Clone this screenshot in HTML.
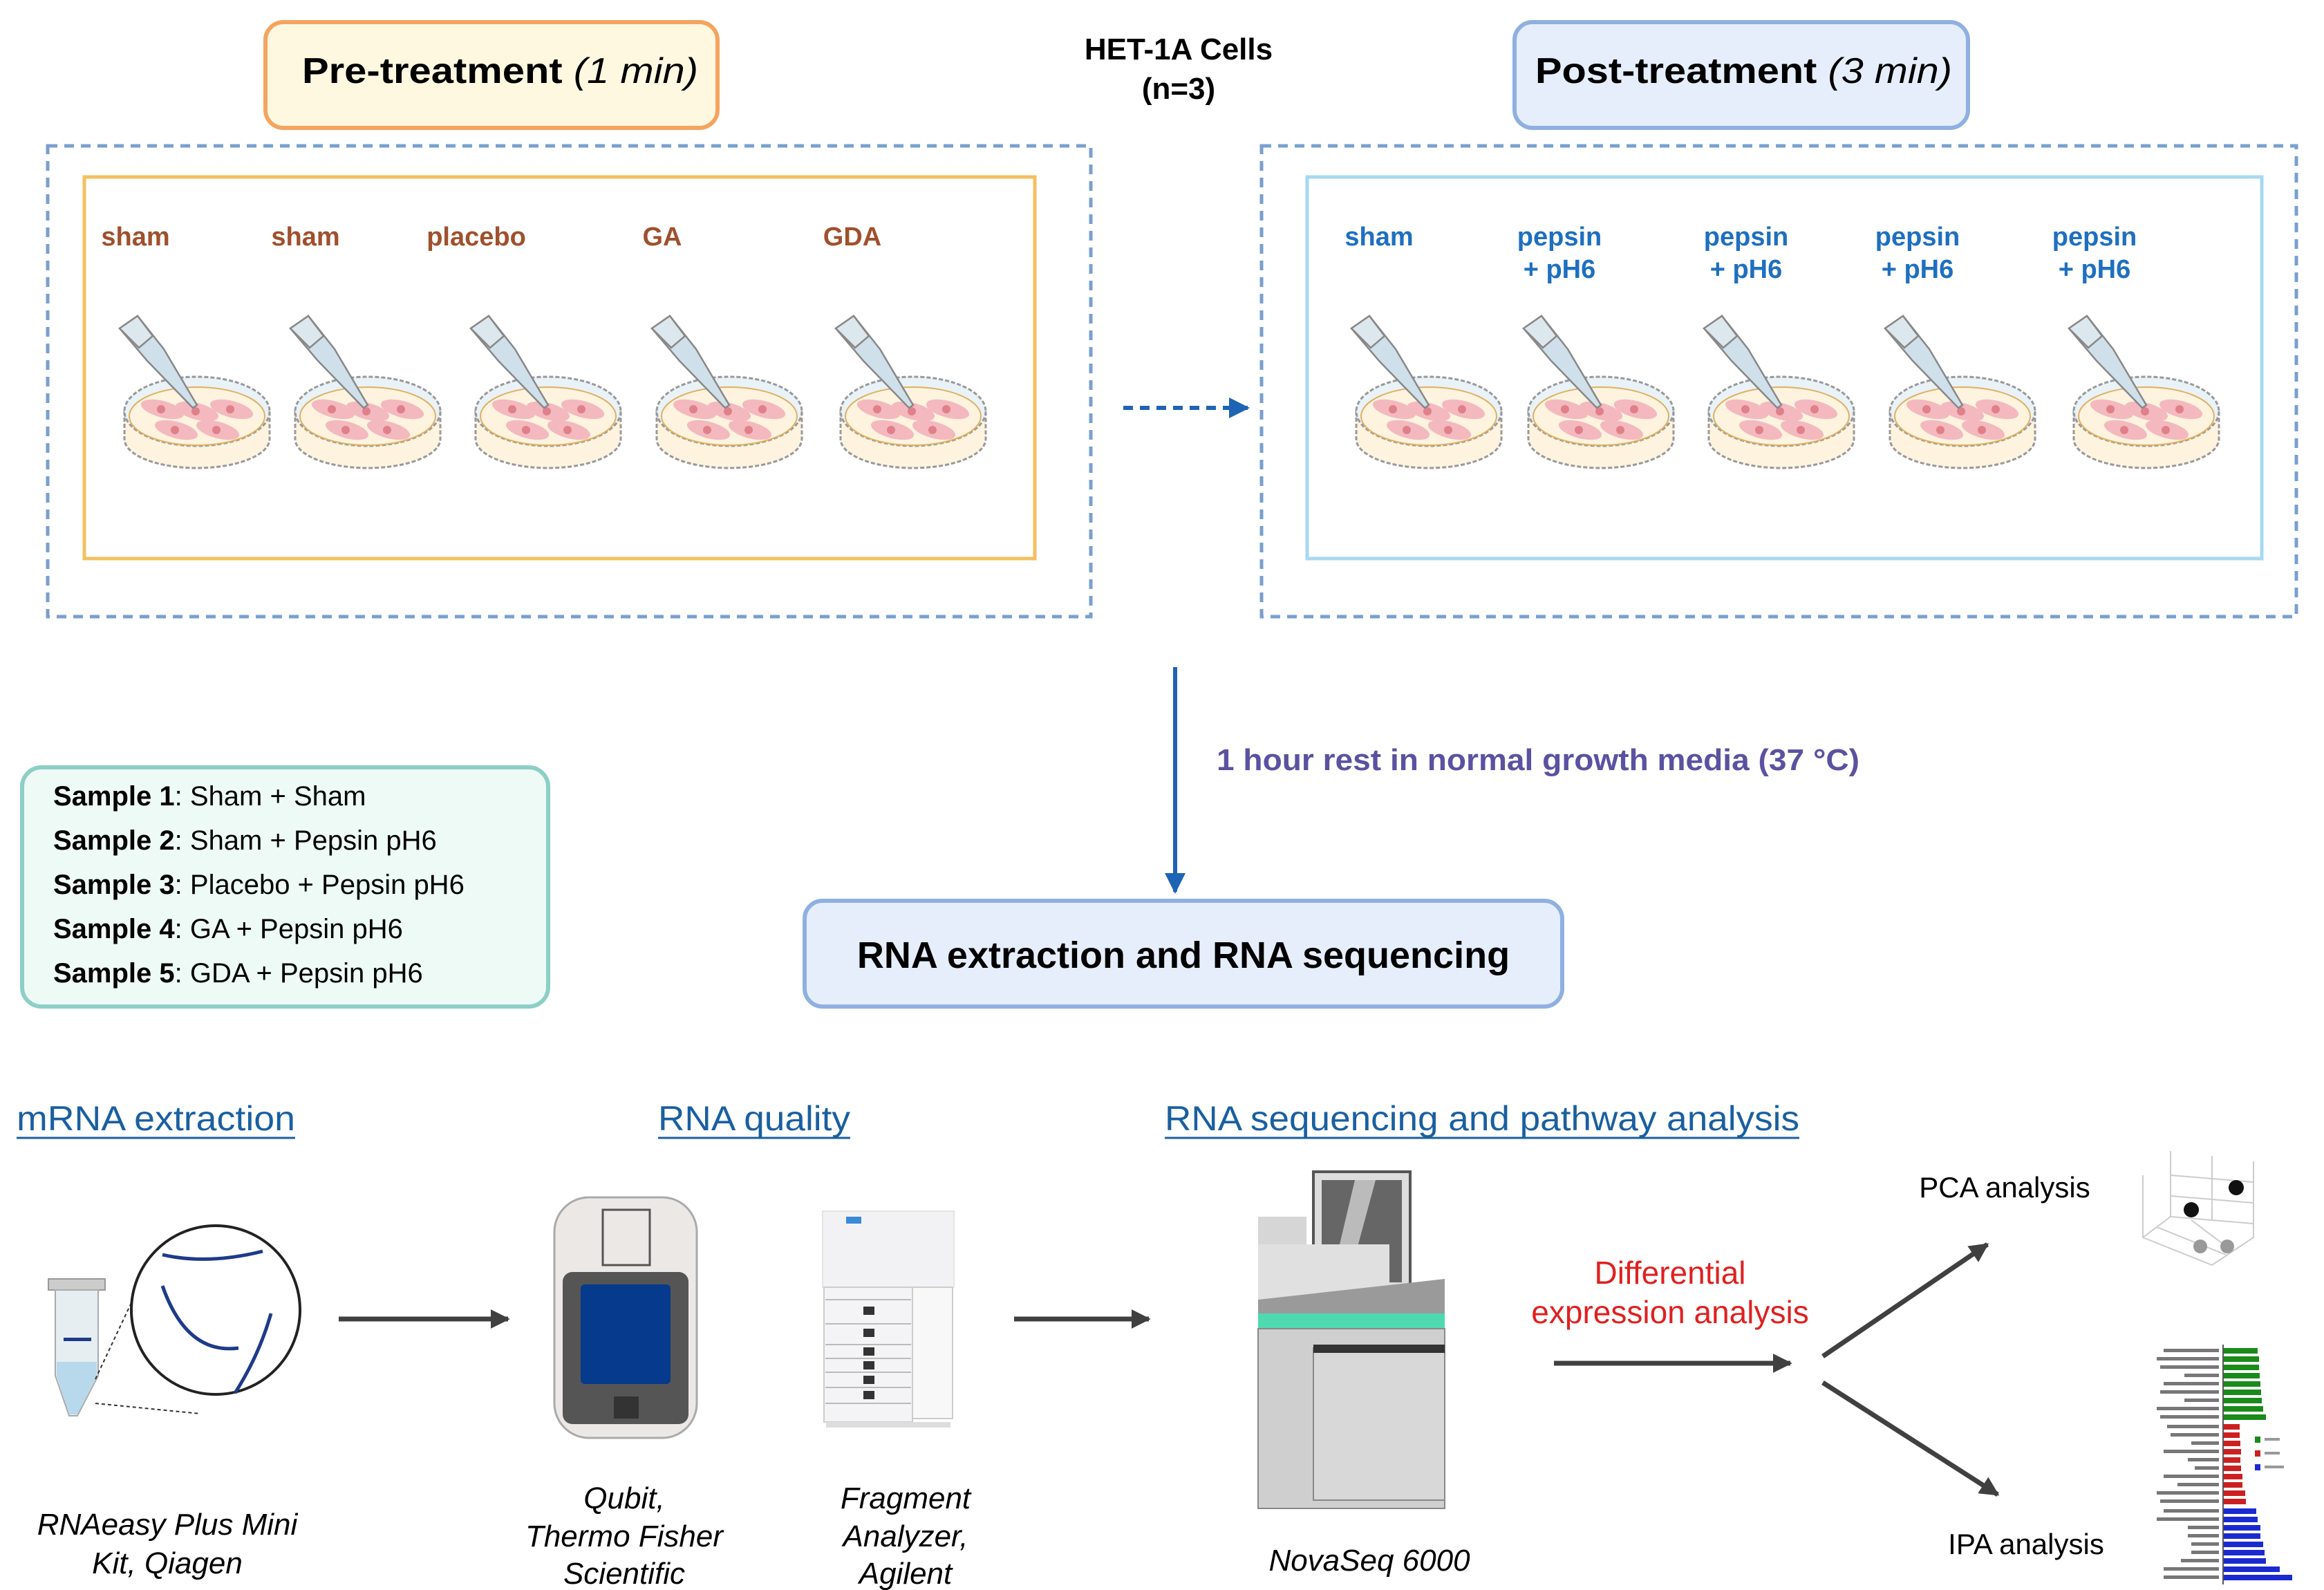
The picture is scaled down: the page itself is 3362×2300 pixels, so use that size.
<!DOCTYPE html>
<html><head><meta charset="utf-8"><style>
html,body{margin:0;padding:0;background:#fff;}
svg{display:block;}
text{font-family:"Liberation Sans",sans-serif;}
</style></head><body>
<svg width="3362" height="2300" viewBox="0 0 3362 2300" xmlns="http://www.w3.org/2000/svg">
<defs>
<marker id="ah" viewBox="0 0 10 10" refX="9" refY="5" markerWidth="4" markerHeight="4" orient="auto"><path d="M0,0 L10,5 L0,10 z" fill="#404040"/></marker>
<marker id="ab" viewBox="0 0 10 10" refX="9" refY="5" markerWidth="5" markerHeight="5" orient="auto"><path d="M0,0 L10,5 L0,10 z" fill="#1e64b4"/></marker>
<g id="dish">
  <path d="M-105,-5 L-105,35 A105,42 0 0 0 105,35 L105,-5 z" fill="#fdf3df" stroke="#999" stroke-width="3" stroke-dasharray="6,3"/>
  <ellipse cx="0" cy="-5" rx="105" ry="50" fill="#e9f2f7" stroke="#999" stroke-width="3" stroke-dasharray="6,3"/>
  <ellipse cx="0" cy="2" rx="98" ry="42" fill="#fdf3df" stroke="#e0b060" stroke-width="2"/>
  <g fill="#f3b9bf"><ellipse cx="-50" cy="-8" rx="32" ry="12" transform="rotate(15 -50 -8)"/><ellipse cx="0" cy="-5" rx="32" ry="12" transform="rotate(15 0 -5)"/><ellipse cx="50" cy="-8" rx="32" ry="12" transform="rotate(15 50 -8)"/><ellipse cx="-30" cy="22" rx="32" ry="12" transform="rotate(15 -30 22)"/><ellipse cx="30" cy="22" rx="32" ry="12" transform="rotate(15 30 22)"/></g>
  <g fill="#e0808a"><circle cx="-52" cy="-8" r="6"/><circle cx="-2" cy="-5" r="6"/><circle cx="48" cy="-8" r="6"/><circle cx="-32" cy="22" r="6"/><circle cx="28" cy="22" r="6"/></g>
  <path d="M-112,-125 L-86,-143 L-48,-95 L0,-14 L-6,-10 L-72,-78 z" fill="#cfe0ea" stroke="#888" stroke-width="2.5"/>
  <path d="M-112,-125 L-86,-143 L-64,-114 L-84,-97 z" fill="#dde8ee" stroke="#888" stroke-width="2.5"/>
</g>
</defs>

<rect x="384" y="32" width="654" height="153" rx="26" fill="#fff8e1" stroke="#f4a460" stroke-width="6"/>
<text x="437" y="120" font-size="52" textLength="573" lengthAdjust="spacingAndGlyphs"><tspan font-weight="bold">Pre-treatment </tspan><tspan font-style="italic">(1 min)</tspan></text>
<text x="1705" y="86" font-size="44" font-weight="bold" text-anchor="middle">HET-1A Cells</text>
<text x="1705" y="143" font-size="44" font-weight="bold" text-anchor="middle">(n=3)</text>
<rect x="2191" y="32" width="656" height="153" rx="26" fill="#e6eefb" stroke="#8fb0e0" stroke-width="6"/>
<text x="2221" y="120" font-size="52" textLength="603" lengthAdjust="spacingAndGlyphs"><tspan font-weight="bold">Post-treatment </tspan><tspan font-style="italic">(3 min)</tspan></text>

<rect x="69" y="211" width="1509" height="681" fill="none" stroke="#7a9fd0" stroke-width="5" stroke-dasharray="14,10"/>
<rect x="122" y="256" width="1375" height="552" fill="none" stroke="#f4c060" stroke-width="5"/>
<rect x="1825" y="211" width="1497" height="681" fill="none" stroke="#7a9fd0" stroke-width="5" stroke-dasharray="14,10"/>
<rect x="1891" y="256" width="1381" height="552" fill="none" stroke="#a8d8f0" stroke-width="5"/>

<g font-size="38" font-weight="bold" fill="#a0502d" text-anchor="middle">
<text x="196" y="355">sham</text><text x="442" y="355">sham</text><text x="689" y="355">placebo</text><text x="958" y="355">GA</text><text x="1233" y="355">GDA</text>
</g>
<g font-size="38" font-weight="bold" fill="#1e6fc0" text-anchor="middle">
<text x="1995" y="355">sham</text>
<text x="2256" y="355">pepsin</text><text x="2256" y="402">+ pH6</text>
<text x="2526" y="355">pepsin</text><text x="2526" y="402">+ pH6</text>
<text x="2774" y="355">pepsin</text><text x="2774" y="402">+ pH6</text>
<text x="3030" y="355">pepsin</text><text x="3030" y="402">+ pH6</text>
</g>

<use href="#dish" x="285" y="600"/><use href="#dish" x="532" y="600"/><use href="#dish" x="793" y="600"/><use href="#dish" x="1055" y="600"/><use href="#dish" x="1321" y="600"/>
<use href="#dish" x="2067" y="600"/><use href="#dish" x="2316" y="600"/><use href="#dish" x="2577" y="600"/><use href="#dish" x="2839" y="600"/><use href="#dish" x="3105" y="600"/>

<line x1="1625" y1="590" x2="1805" y2="590" stroke="#1e64b4" stroke-width="6" stroke-dasharray="14,10" marker-end="url(#ab)"/>

<line x1="1700" y1="965" x2="1700" y2="1290" stroke="#1e64b4" stroke-width="6" marker-end="url(#ab)"/>
<text x="1760" y="1114" font-size="44" font-weight="bold" fill="#5a52a0" textLength="930" lengthAdjust="spacingAndGlyphs">1 hour rest in normal growth media (37 °C)</text>

<rect x="32" y="1110" width="761" height="346" rx="28" fill="#eefaf6" stroke="#8ccfc6" stroke-width="6"/>
<g font-size="40">
<text x="77" y="1165"><tspan font-weight="bold">Sample 1</tspan>: Sham + Sham</text>
<text x="77" y="1229"><tspan font-weight="bold">Sample 2</tspan>: Sham + Pepsin pH6</text>
<text x="77" y="1293"><tspan font-weight="bold">Sample 3</tspan>: Placebo + Pepsin pH6</text>
<text x="77" y="1357"><tspan font-weight="bold">Sample 4</tspan>: GA + Pepsin pH6</text>
<text x="77" y="1421"><tspan font-weight="bold">Sample 5</tspan>: GDA + Pepsin pH6</text>
</g>

<rect x="1164" y="1303" width="1096" height="153" rx="26" fill="#e6eefb" stroke="#8fb0e0" stroke-width="6"/>
<text x="1712" y="1400" font-size="54" font-weight="bold" text-anchor="middle">RNA extraction and RNA sequencing</text>

<g font-size="50" fill="#1a5fa0">
<text x="24" y="1635" textLength="403" lengthAdjust="spacingAndGlyphs">mRNA extraction</text><line x1="24" y1="1646" x2="427" y2="1646" stroke="#1a5fa0" stroke-width="3"/>
<text x="952" y="1635" textLength="278" lengthAdjust="spacingAndGlyphs">RNA quality</text><line x1="952" y1="1646" x2="1230" y2="1646" stroke="#1a5fa0" stroke-width="3"/>
<text x="1685" y="1635" textLength="918" lengthAdjust="spacingAndGlyphs">RNA sequencing and pathway analysis</text><line x1="1685" y1="1646" x2="2603" y2="1646" stroke="#1a5fa0" stroke-width="3"/>
</g>

<!-- tube + circle -->
<rect x="70" y="1850" width="82" height="16" fill="#ccc" stroke="#999" stroke-width="2"/>
<path d="M80,1866 L142,1866 L142,1990 L112,2048 L100,2048 L80,1990 z" fill="#e6eef2" stroke="#aaa" stroke-width="2"/>
<path d="M82,1970 L140,1970 L140,1990 L112,2046 L100,2046 L82,1990 z" fill="#b8d8ec"/>
<rect x="92" y="1935" width="40" height="5" fill="#1e3a8a"/>
<line x1="138" y1="1995" x2="218" y2="1825" stroke="#333" stroke-width="2" stroke-dasharray="5,4"/>
<line x1="138" y1="2030" x2="290" y2="2045" stroke="#333" stroke-width="2" stroke-dasharray="5,4"/>
<circle cx="312" cy="1895" r="122" fill="#fff" stroke="#222" stroke-width="4"/>
<path d="M235,1815 Q300,1830 380,1810" fill="none" stroke="#1e3a8a" stroke-width="5"/>
<path d="M235,1860 Q270,1960 345,1950" fill="none" stroke="#1e3a8a" stroke-width="5"/>
<path d="M392,1900 Q375,1960 340,2015" fill="none" stroke="#1e3a8a" stroke-width="5"/>

<line x1="490" y1="1908" x2="735" y2="1908" stroke="#404040" stroke-width="7" marker-end="url(#ah)"/>

<!-- qubit -->
<rect x="802" y="1732" width="206" height="348" rx="50" fill="#ebe8e6" stroke="#aaa" stroke-width="3"/>
<rect x="872" y="1750" width="68" height="80" fill="#ebe8e6" stroke="#555" stroke-width="3"/>
<rect x="814" y="1840" width="182" height="220" rx="14" fill="#555"/>
<rect x="840" y="1858" width="130" height="144" rx="6" fill="#053a8c"/>
<rect x="888" y="2020" width="36" height="32" fill="#333"/>

<!-- fragment analyzer -->
<rect x="1190" y="1752" width="190" height="110" fill="#f2f2f4" stroke="#e4e4e4" stroke-width="2"/>
<rect x="1224" y="1760" width="22" height="10" fill="#3a8ad8"/>
<rect x="1192" y="1862" width="128" height="195" fill="#f4f4f6" stroke="#ccc" stroke-width="2"/>
<rect x="1320" y="1862" width="58" height="190" fill="#f8f8f8" stroke="#ccc" stroke-width="2"/>
<g stroke="#bbb" stroke-width="2"><line x1="1194" y1="1880" x2="1318" y2="1880"/><line x1="1194" y1="1915" x2="1318" y2="1915"/><line x1="1194" y1="1945" x2="1318" y2="1945"/><line x1="1194" y1="1965" x2="1318" y2="1965"/><line x1="1194" y1="1985" x2="1318" y2="1985"/><line x1="1194" y1="2007" x2="1318" y2="2007"/><line x1="1194" y1="2030" x2="1318" y2="2030"/></g>
<g fill="#333"><rect x="1249" y="1890" width="16" height="12"/><rect x="1249" y="1922" width="16" height="12"/><rect x="1249" y="1949" width="16" height="12"/><rect x="1249" y="1969" width="16" height="12"/><rect x="1249" y="1990" width="16" height="12"/><rect x="1249" y="2012" width="16" height="12"/></g>
<rect x="1195" y="2057" width="180" height="8" fill="#ddd"/>

<line x1="1467" y1="1908" x2="1662" y2="1908" stroke="#404040" stroke-width="7" marker-end="url(#ah)"/>

<!-- novaseq -->
<rect x="1900" y="1695" width="140" height="175" fill="#ddd" stroke="#555" stroke-width="4"/>
<rect x="1912" y="1707" width="116" height="148" fill="#666"/>
<polygon points="1960,1707 1990,1707 1950,1855 1925,1855" fill="#bbb"/>
<rect x="1820" y="1760" width="70" height="120" fill="#d6d6d6"/>
<rect x="1820" y="1800" width="190" height="80" fill="#e0e0e0"/>
<polygon points="1820,1880 2090,1850 2090,1900 1820,1900" fill="#9a9a9a"/>
<rect x="1820" y="1900" width="270" height="22" fill="#4fd9b0"/>
<rect x="1820" y="1922" width="270" height="260" fill="#cfcfcf" stroke="#888" stroke-width="2"/>
<rect x="1900" y="1950" width="190" height="220" fill="#d8d8d8" stroke="#888" stroke-width="2"/>
<rect x="1900" y="1945" width="190" height="12" fill="#333"/>

<text x="2416" y="1857" font-size="46" fill="#e02020" text-anchor="middle">Differential</text>
<text x="2416" y="1914" font-size="46" fill="#e02020" text-anchor="middle">expression analysis</text>
<line x1="2248" y1="1972" x2="2590" y2="1972" stroke="#404040" stroke-width="7" marker-end="url(#ah)"/>
<line x1="2637" y1="1962" x2="2875" y2="1800" stroke="#404040" stroke-width="7" marker-end="url(#ah)"/>
<line x1="2637" y1="2000" x2="2890" y2="2162" stroke="#404040" stroke-width="7" marker-end="url(#ah)"/>

<text x="2900" y="1732" font-size="42" text-anchor="middle">PCA analysis</text>
<text x="2931" y="2248" font-size="42" text-anchor="middle">IPA analysis</text>

<!-- PCA plot -->
<g stroke="#ccc" stroke-width="2" fill="none">
<polyline points="3100,1700 3100,1790 3200,1830 3260,1790 3260,1680"/>
<line x1="3140" y1="1665" x2="3140" y2="1760"/><line x1="3100" y1="1790" x2="3140" y2="1760"/><line x1="3140" y1="1760" x2="3260" y2="1770"/>
<line x1="3200" y1="1672" x2="3200" y2="1765"/><line x1="3140" y1="1700" x2="3260" y2="1710"/><line x1="3140" y1="1730" x2="3260" y2="1740"/>
<line x1="3120" y1="1775" x2="3220" y2="1815"/><line x1="3170" y1="1765" x2="3230" y2="1810"/>
</g>
<circle cx="3170" cy="1750" r="11" fill="#111"/><circle cx="3235" cy="1718" r="11" fill="#111"/>
<circle cx="3183" cy="1803" r="10" fill="#999"/><circle cx="3222" cy="1803" r="10" fill="#999"/>

<!-- IPA bars -->
<g fill="#1a8a1a">
<rect x="3216" y="1950" width="50" height="8"/><rect x="3216" y="1962" width="52" height="8"/><rect x="3216" y="1974" width="52" height="8"/><rect x="3216" y="1986" width="53" height="8"/><rect x="3216" y="1998" width="54" height="8"/><rect x="3216" y="2010" width="55" height="8"/><rect x="3216" y="2022" width="56" height="8"/><rect x="3216" y="2034" width="58" height="8"/><rect x="3216" y="2046" width="62" height="8"/></g>
<g fill="#cc2020">
<rect x="3216" y="2060" width="24" height="8"/><rect x="3216" y="2072" width="24" height="8"/><rect x="3216" y="2084" width="25" height="8"/><rect x="3216" y="2096" width="26" height="8"/><rect x="3216" y="2108" width="25" height="8"/><rect x="3216" y="2120" width="26" height="8"/><rect x="3216" y="2132" width="28" height="8"/><rect x="3216" y="2144" width="28" height="8"/><rect x="3216" y="2156" width="32" height="8"/><rect x="3216" y="2168" width="33" height="8"/></g>
<g fill="#1a2ad0">
<rect x="3216" y="2182" width="48" height="8"/><rect x="3216" y="2194" width="50" height="8"/><rect x="3216" y="2206" width="54" height="8"/><rect x="3216" y="2218" width="54" height="8"/><rect x="3216" y="2230" width="58" height="8"/><rect x="3216" y="2242" width="60" height="8"/><rect x="3216" y="2254" width="62" height="8"/><rect x="3216" y="2266" width="82" height="8"/><rect x="3216" y="2278" width="100" height="8"/></g>
<line x1="3216" y1="1945" x2="3216" y2="2292" stroke="#555" stroke-width="2"/>
<g fill="#777">
<rect x="3130" y="1951" width="80" height="5"/><rect x="3120" y="1963" width="90" height="5"/><rect x="3125" y="1975" width="85" height="5"/><rect x="3160" y="1987" width="50" height="5"/><rect x="3130" y="1999" width="80" height="5"/><rect x="3125" y="2011" width="85" height="5"/><rect x="3160" y="2023" width="50" height="5"/><rect x="3120" y="2035" width="90" height="5"/><rect x="3125" y="2047" width="85" height="5"/>
<rect x="3135" y="2061" width="75" height="5"/><rect x="3140" y="2073" width="70" height="5"/><rect x="3170" y="2085" width="40" height="5"/><rect x="3130" y="2097" width="80" height="5"/><rect x="3165" y="2109" width="45" height="5"/><rect x="3175" y="2121" width="35" height="5"/><rect x="3130" y="2133" width="80" height="5"/><rect x="3150" y="2145" width="60" height="5"/><rect x="3120" y="2157" width="90" height="5"/><rect x="3125" y="2169" width="85" height="5"/>
<rect x="3130" y="2183" width="80" height="5"/><rect x="3120" y="2195" width="90" height="5"/><rect x="3165" y="2207" width="45" height="5"/><rect x="3165" y="2219" width="45" height="5"/><rect x="3170" y="2231" width="40" height="5"/><rect x="3170" y="2243" width="40" height="5"/><rect x="3155" y="2255" width="55" height="5"/><rect x="3130" y="2267" width="80" height="5"/><rect x="3130" y="2279" width="80" height="5"/></g>
<rect x="3262" y="2078" width="8" height="9" fill="#1a8a1a"/><rect x="3262" y="2098" width="8" height="9" fill="#cc2020"/><rect x="3262" y="2118" width="8" height="9" fill="#1a2ad0"/>
<g fill="#999"><rect x="3276" y="2080" width="22" height="4"/><rect x="3276" y="2100" width="22" height="4"/><rect x="3276" y="2120" width="28" height="4"/></g>

<g font-size="44" font-style="italic" text-anchor="middle">
<text x="242" y="2220">RNAeasy Plus Mini</text><text x="242" y="2276">Kit, Qiagen</text>
<text x="903" y="2182">Qubit,</text><text x="903" y="2237">Thermo Fisher</text><text x="903" y="2291">Scientific</text>
<text x="1310" y="2182">Fragment</text><text x="1310" y="2237">Analyzer,</text><text x="1310" y="2291">Agilent</text>
<text x="1981" y="2272">NovaSeq 6000</text>
</g>
</svg>
</body></html>
